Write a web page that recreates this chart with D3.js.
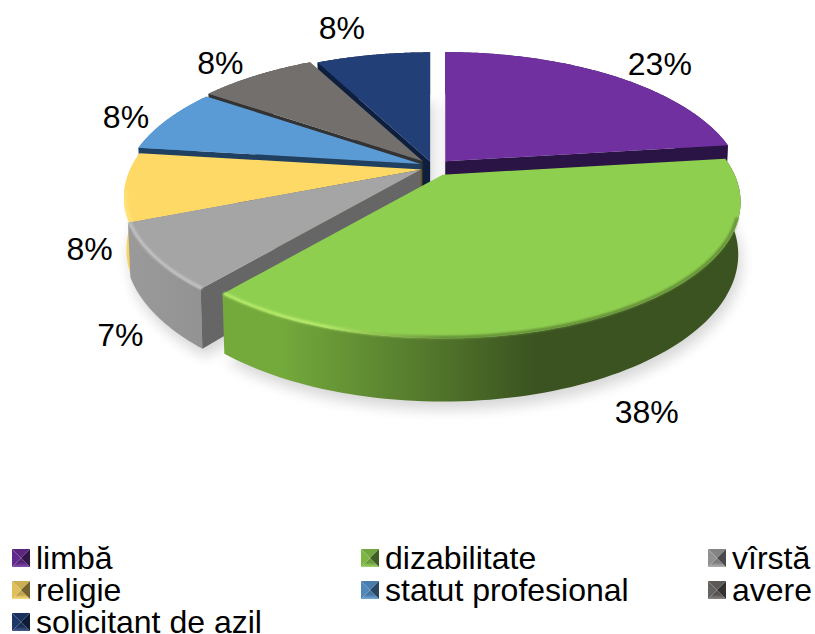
<!DOCTYPE html>
<html><head><meta charset="utf-8">
<script src="https://cdn.jsdelivr.net/npm/d3@7/dist/d3.min.js"></script>
<style>html,body{margin:0;padding:0;background:#fff}svg{display:block}text{font-family:"Liberation Sans",Arial,sans-serif;fill:#000}</style>
</head><body><svg id="c" width="815" height="634"></svg>
<script>
// ---- data ----
const categories = ["limbă","dizabilitate","vîrstă","religie","statut profesional","avere","solicitant de azil"];
const values = [23, 38, 7, 8, 8, 8, 8];
const plotValues = [23, 38.0, 7.9, 8.15, 7.7, 7.75, 7.5];   // angular share
const labels = ["23%","38%","7%","8%","8%","8%","8%"];

// ---- style and layout ----
const topColors  = ["#7030a0","#8fcf50","#a5a5a5","#ffd966","#5b9bd5","#736f6c","#223f77"];
const wallColors = ["#2a1445","#3a4f20","#666666","#6a5620","#1f4060","#333333","#0e1f3e"];
const sideLight  = ["#7030a0","#74aa3c","#9a9a9a","#f9d462","#5b9bd5","#736f6c","#223f77"];
const sideDark   = ["#3a1a55","#3b5320","#858585","#e8c452","#3a6a95","#444444","#122040"];
const rimHi      = ["#9a60d0","#b8ec6a","#c4c4c4","#ffe37c","#90c0ea","#a09c99","#5070a8"];
const explode    = [20, 22, 14, 10, 12, 14, 8];
const yShift     = [3, 1, 1, 4, 1, 1, 0];
const paintOrder = [6,5,4,3,0,2,1];
const labelR     = [1.18,1.2,1.23,1.2,1.18,1.2,1.2];
const labelNudge = [[21,1],[-8,-1],[36,-5],[26,59],[1,5],[-8,2],[-22,-10]];
const legendCols = [12,361,708];
const legendRows = [558,590,622];

const svg = d3.select("#c");
const defs = svg.append("defs");
const blur = (id,s)=>defs.append("filter").attr("id",id).attr("x","-20%").attr("y","-20%").attr("width","140%").attr("height","140%")
   .append("feGaussianBlur").attr("stdDeviation",s);
blur("b8",7); blur("b1",1.3);

// projection: circle of the pie seen in perspective
const C0 = {x:432, y:165}, RX = 292, RY = 131, K = 0.2, T = 50.5;
function proj(a,r,o,depth){
  const u=Math.sin(a)*r, v=-Math.cos(a)*r;
  const d = 1 - K*v;
  const s = depth ? 0.992 : 1;
  return [ o.cx + RX*u/d*s, o.cy + RY*v/d + (depth ? T/d : 0) ];
}
const arcs = d3.pie().sort(null).value(d=>d)(plotValues);
const offs = arcs.map((a,i)=>{
  const m=(a.startAngle+a.endAngle)/2;
  return {cx:C0.x + explode[i]*Math.sin(m), cy:C0.y - explode[i]*Math.cos(m)*0.45 + yShift[i]};
});
const line = d3.line();
const poly = pts => line(pts)+"Z";
const arcPts = (a,r,o,depth,n=90)=>d3.range(n+1).map(i=>proj(a.startAngle+(a.endAngle-a.startAngle)*i/n,r,o,depth));

// soft shadow behind the pie
const gShadow = svg.append("g").attr("filter","url(#b8)").attr("opacity",.16).attr("transform","translate(3,8)");
arcs.forEach((a,i)=>{
  const o=offs[i];
  gShadow.append("path").attr("fill","#000")
    .attr("d",poly([proj(a.startAngle,0,o,true),...arcPts(a,1,o,true)]));
});

const gPie = svg.append("g");
paintOrder.forEach(i=>{
  const a=arcs[i], o=offs[i], g=gPie.append("g");
  const x0=o.cx-RX, x1=o.cx+RX;
  const lg=defs.append("linearGradient").attr("id","side"+i).attr("gradientUnits","userSpaceOnUse")
    .attr("x1",x0).attr("x2",x1).attr("y1",0).attr("y2",0);
  if(i===1){
    [[0,sideLight[i]],[.22,sideLight[i]],[.66,sideDark[i]],[1,sideDark[i]]]
      .forEach(s=>lg.append("stop").attr("offset",s[0]).attr("stop-color",s[1]));
  } else {
    [[0,sideLight[i]],[.35,sideDark[i]]]
      .forEach(s=>lg.append("stop").attr("offset",s[0]).attr("stop-color",s[1]));
  }
  const ap=proj(0,0,o,false), apB=proj(0,0,o,true);
  // outer wall
  g.append("path").attr("fill",`url(#side${i})`)
    .attr("d",poly([...arcPts(a,1,o,false),...arcPts(a,1,o,true).reverse()]));
  // the cut wall that faces the viewer
  const wallAngle = a.startAngle>Math.PI ? a.startAngle : (a.endAngle<Math.PI ? a.endAngle : null);
  if(wallAngle!==null){
    g.append("path").attr("fill",wallColors[i])
      .attr("d",poly([ap,proj(wallAngle,1,o,false),proj(wallAngle,1,o,true),apB]));
  }
  // top face
  g.append("path").attr("fill",topColors[i]).attr("d",poly([ap,...arcPts(a,1,o,false)]));
  // soft bevel along the front rim only
  if([1,2,3].includes(i)){
    const mid=d3.interpolateRgb(topColors[i],sideDark[i])(.55);
    const lh=defs.append("linearGradient").attr("id","hi"+i).attr("gradientUnits","userSpaceOnUse")
      .attr("x1",x0).attr("x2",x1).attr("y1",0).attr("y2",0);
    [[0,rimHi[i]],[.3,rimHi[i]],[.5,mid],[1,mid]]
      .forEach(s=>lh.append("stop").attr("offset",s[0]).attr("stop-color",s[1]));
    const frontFrom=Math.max(a.startAngle,Math.PI*0.6);
    const frontTo=Math.min(a.endAngle,Math.PI*1.45);
    g.append("path").attr("fill","none").attr("stroke",`url(#hi${i})`).attr("stroke-width",3)
      .attr("filter","url(#b1)").attr("d",line(arcPts({startAngle:frontFrom,endAngle:frontTo},0.995,o,false)));
  }
});

// data labels
const gLab = svg.append("g");
arcs.forEach((a,i)=>{
  const m=(a.startAngle+a.endAngle)/2, o=offs[i];
  const p=proj(m,labelR[i],o,i===1||i===2);
  gLab.append("text").attr("x",p[0]+labelNudge[i][0]).attr("y",p[1]+labelNudge[i][1])
    .attr("text-anchor","middle").attr("dominant-baseline","central").attr("font-size",32).text(labels[i]);
});

// legend
const SW=18;
const gLeg = svg.append("g");
const mix=(a,b,t)=>d3.interpolateRgb(a,b)(t);
categories.forEach((c,i)=>{
  const col=i%3,row=Math.floor(i/3);
  const x=legendCols[col],yc=legendRows[row],y=yc-SW/2;
  const g=gLeg.append("g").attr("transform",`translate(${x},${y})`);
  const cx=SW/2,cy=SW/2;
  const base=topColors[i];
  const lg=defs.append("linearGradient").attr("id","lb"+i).attr("x1",0).attr("x2",0).attr("y1",0).attr("y2",1);
  lg.append("stop").attr("offset",.5).attr("stop-color",mix(base,"#000",.25));
  lg.append("stop").attr("offset",1).attr("stop-color",mix(base,"#fff",.15));
  const tri=[
    [[0,0],[SW,0],[cx,cy],mix(base,"#000",.2)],
    [[0,SW],[SW,SW],[cx,cy],`url(#lb${i})`],
    [[0,0],[0,SW],[cx,cy],mix(base,"#000",.12)],
    [[SW,0],[SW,SW],[cx,cy],mix(base,"#000",.55)]
  ];
  tri.forEach(t=>g.append("path").attr("fill",t[3]).attr("d",poly(t.slice(0,3))));
  gLeg.append("text").attr("x",x+SW+6).attr("y",yc).attr("dominant-baseline","central").attr("font-size",32).text(c);
});
</script></body></html>
